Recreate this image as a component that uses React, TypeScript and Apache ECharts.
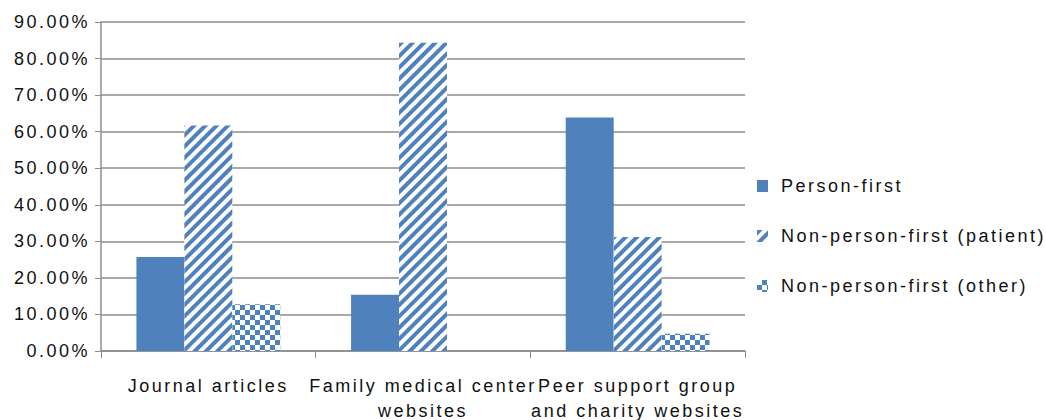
import React, { useEffect, useRef } from "react";
import * as echarts from "echarts";

const categories = [
  "Journal articles",
  "Family medical center\nwebsites",
  "Peer support group\nand charity websites",
];
const seriesNames = [
  "Person-first",
  "Non-person-first (patient)",
  "Non-person-first (other)",
];
const personFirst = [25.7, 15.4, 63.9];
const nonPersonFirstPatient = [61.7, 84.3, 31.2];
const nonPersonFirstOther = [12.8, 0, 4.7];

const BLUE = "#4F81BD";
const GRID = "#8c8c8c";
const TEXT = "#111111";
const FONT = "'Liberation Sans', Arial, sans-serif";

export default function App() {
  const ref = useRef<HTMLDivElement>(null);

  useEffect(() => {
    if (!ref.current) return;
    const chart = echarts.init(ref.current, undefined, { renderer: "svg" });
    chart.setOption({
      animation: false,
      backgroundColor: "#ffffff",
      textStyle: { fontFamily: FONT },
      grid: { left: 101, right: 301, top: 22, bottom: 69, containLabel: false, outerBoundsMode: "none" },
      legend: {
        orient: "vertical",
        left: 752,
        top: 172,
        itemWidth: 11,
        itemHeight: 12,
        itemGap: 32,
        icon: "rect",
        textStyle: { fontSize: 18, color: TEXT, fontFamily: FONT, padding: [0, 0, 0, 8] },
        data: seriesNames,
      },
      xAxis: {
        type: "category",
        data: categories,
        boundaryGap: true,
        axisLine: { lineStyle: { color: GRID, width: 1.5 } },
        axisTick: { show: true, interval: 0, length: 7, lineStyle: { color: GRID } },
        axisLabel: {
          interval: 0,
          fontSize: 18,
          color: TEXT,
          lineHeight: 25,
          margin: 22,
          fontFamily: FONT,
        },
      },
      yAxis: {
        type: "value",
        min: 0,
        max: 90,
        interval: 10,
        axisLine: { show: true, lineStyle: { color: GRID, width: 1.5 } },
        axisTick: { show: true, length: 6, lineStyle: { color: GRID } },
        splitLine: { lineStyle: { color: GRID, width: 1.5 } },
        axisLabel: {
          fontSize: 18,
          color: TEXT,
          margin: 11,
          fontFamily: FONT,
          formatter: (v: number) => v.toFixed(2) + "%",
        },
      },
      series: [
        {
          name: seriesNames[0],
          type: "bar",
          data: personFirst,
          barGap: "0%",
          barCategoryGap: "33%",
          itemStyle: { color: BLUE },
        },
        {
          name: seriesNames[1],
          type: "bar",
          data: nonPersonFirstPatient,
          barGap: "0%",
          barCategoryGap: "33%",
          itemStyle: {
            color: "#ffffff",
            decal: {
              symbol: "rect",
              symbolSize: 1,
              color: BLUE,
              dashArrayX: [1, 0],
              dashArrayY: [3.2, 3.4],
              rotation: -Math.PI / 4,
            },
          },
        },
        {
          name: seriesNames[2],
          type: "bar",
          data: nonPersonFirstOther,
          barGap: "0%",
          barCategoryGap: "33%",
          itemStyle: {
            color: "#ffffff",
            decal: {
              symbol: "rect",
              symbolSize: 1,
              color: BLUE,
              dashArrayX: [
                [5, 5],
                [0, 5, 5, 0],
              ],
              dashArrayY: [5, 0],
              rotation: 0,
            },
          },
        },
      ],
    });
    return () => chart.dispose();
  }, []);

  return (
    <div
      ref={ref}
      style={{
        position: "fixed",
        left: 0,
        top: 0,
        width: 1046,
        height: 420,
        letterSpacing: "2.5px",
        background: "#fff",
      }}
    />
  );
}
